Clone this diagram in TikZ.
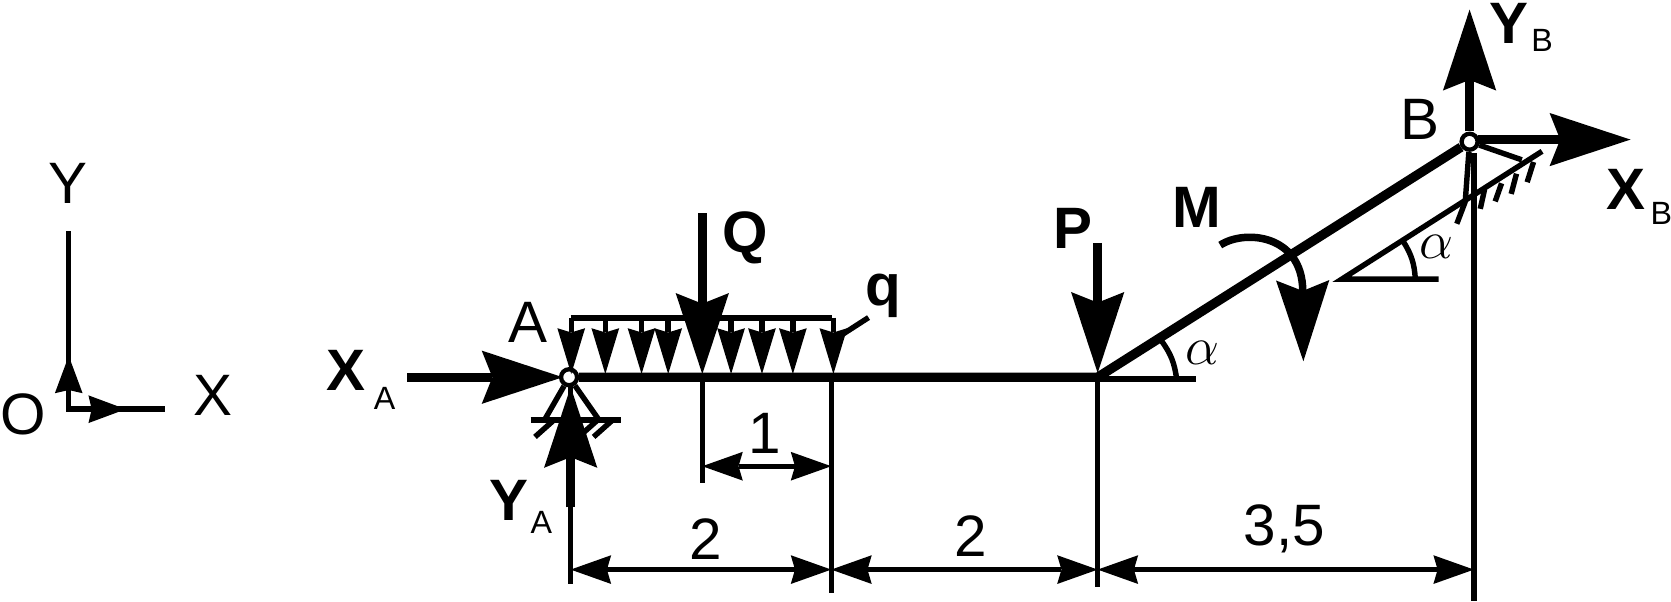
\documentclass[tikz,border=0pt]{standalone}
\usepackage{fontspec}
\setmainfont{Liberation Sans}
\usetikzlibrary{arrows.meta}
\begin{document}
\begin{tikzpicture}
    \tikzset{lab/.style={font=\fontsize{15.6}{18}\selectfont, inner sep=0pt}}
    \tikzset{boldlab/.style={font=\fontsize{15.6}{18}\selectfont\bfseries, inner sep=0pt}}
    \tikzset{sublab/.style={font=\fontsize{8.6}{10}\selectfont, inner sep=0pt}}
    \tikzset{thinline/.style={line width=1.45pt}}
    \tikzset{beam/.style={line width=2.5pt}}
    \tikzset{force/.style={line width=2.5pt, -{Stealth[length=7.6mm, width=5mm, inset=1mm, line width=0pt]}}}
    \tikzset{moment/.style={line width=2pt, -{Stealth[length=7.6mm, width=5mm, inset=1mm, line width=0pt]}}}
    \tikzset{loadarrow/.style={thinline, -{Stealth[length=4.3mm, width=2.6mm, inset=0.4mm, line width=0pt]}}}
    \tikzset{axisarrow/.style={thinline, -{Stealth[length=3.5mm, width=2.6mm, inset=0.3mm, line width=0pt]}}}
    \tikzset{dim/.style={thinline, {Stealth[length=3.8mm, width=2.7mm, inset=0.4mm, line width=0pt]}-{Stealth[length=3.8mm, width=2.7mm, inset=0.4mm, line width=0pt]}}}
    \tikzset{pin/.style={circle, draw, fill=white, line width=1.15pt, minimum size=1.5mm, inner sep=0pt}}
    \useasboundingbox (0,0) rectangle (15.68,5.64);

    % axes
    \coordinate (Oxy) at (0.645,1.80);
    \coordinate (Ytop) at (0.645,3.47);
    \coordinate (Xend) at (1.55,1.80);
    \coordinate (Ytip) at (0.645,2.30);
    \coordinate (Xtip) at (1.18,1.80);
    \draw[thinline] (Ytop) -- (Oxy) -- (Xend);
    \draw[axisarrow] (Oxy) -- (Ytip);
    \draw[axisarrow] (Oxy) -- (Xtip);
    \node[lab] (Ylab) at (0.64,3.92) {Y};
    \node[lab] (Olab) at (0.22,1.75) {O};
    \node[lab] (Xlab) at (2.00,1.93) {X};

    % beam
    \node[pin] (A) at (5.34,2.10) {};
    \node[pin] (B) at (13.79,4.31) {};
    \coordinate (Knee) at (10.30,2.10);
    \draw[beam] (A) -- (Knee) -- (B);

    % dimension lines
    \coordinate (Ab) at (5.355,2.02);
    \coordinate (Ae) at (5.355,0.16);
    \coordinate (Qb) at (6.59,2.10);
    \coordinate (Qe) at (6.59,1.11);
    \coordinate (Rb) at (7.80,2.10);
    \coordinate (Re) at (7.80,0.08);
    \coordinate (Kb) at (10.30,2.10);
    \coordinate (Ke) at (10.30,0.13);
    \coordinate (Bb) at (13.83,4.20);
    \coordinate (Be) at (13.83,0.00);
    \foreach \i/\j in {Ab/Ae,Qb/Qe,Rb/Re,Kb/Ke,Bb/Be}{
        \draw[thinline] (\i) -- (\j);
    }
    \coordinate (DimA) at (5.355,0.295);
    \coordinate (DimR) at (7.80,0.295);
    \coordinate (DimK) at (10.30,0.295);
    \coordinate (DimB) at (13.83,0.295);
    \coordinate (DimQ) at (6.59,1.265);
    \coordinate (DimS) at (7.80,1.265);
    \foreach \i/\j in {DimA/DimR,DimR/DimK,DimK/DimB,DimQ/DimS}{
        \draw[dim] (\i) -- (\j);
    }
    \node[lab] (OneLab) at (7.18,1.57) {1};
    \node[lab] (TwoLabA) at (6.62,0.58) {2};
    \node[lab] (TwoLabB) at (9.11,0.61) {2};
    \node[lab] (LenLab) at (12.05,0.68) {3,5};

    % support at A
    \coordinate (LegL) at (5.11,1.70);
    \coordinate (LegR) at (5.62,1.70);
    \coordinate (GroundL) at (4.98,1.70);
    \coordinate (GroundR) at (5.83,1.70);
    \draw[thinline] (LegL) -- (A) -- (LegR);
    \draw[thinline] (GroundL) -- (GroundR);
    \foreach \i/\x in {a/5.02,b/5.25,c/5.43,d/5.57}{
        \coordinate (H\i) at (\x,1.54);
        \coordinate (G\i) at ([xshift=1.8mm]\x,1.70);
        \draw[thinline] (H\i) -- (G\i);
    }

    % distributed load
    \coordinate (LoadL) at (5.355,2.66);
    \coordinate (LoadR) at (7.81,2.66);
    \draw[line width=1.6pt] (LoadL) -- (LoadR);
    \foreach \i/\x in {a/5.36,b/5.68,c/6.02,d/6.27,e/6.86,f/7.15,g/7.44,h/7.82}{
        \coordinate (Lt\i) at (\x,2.66);
        \coordinate (Lb\i) at (\x,2.13);
        \draw[loadarrow] (Lt\i) -- (Lb\i);
    }
    \coordinate (LeadA) at (7.84,2.46);
    \coordinate (LeadB) at (8.15,2.66);
    \draw[thinline] (LeadA) -- (LeadB);
    \node[boldlab] (qlab) at (8.29,2.86) {q};

    % forces
    \coordinate (Qs) at (6.59,3.64);
    \coordinate (Qt) at (6.59,2.13);
    \draw[force] (Qs) -- (Qt);
    \node[boldlab] (Qlab) at (6.99,3.41) {Q};
    \coordinate (XAs) at (3.82,2.10);
    \coordinate (XAt) at (5.28,2.10);
    \draw[force] (XAs) -- (XAt);
    \node[boldlab] (XAlab) at (3.25,2.16) {X};
    \node[sublab] (XAsub) at (3.61,1.90) {A};
    \coordinate (YAs) at (5.355,0.88);
    \coordinate (YAt) at (5.355,2.01);
    \draw[force] (YAs) -- (YAt);
    \node[boldlab] (YAlab) at (4.78,0.94) {Y};
    \node[sublab] (YAsub) at (5.08,0.74) {A};
    \node[lab] (Alab) at (4.95,2.61) {A};
    \coordinate (Ps) at (10.30,3.36);
    \coordinate (Pt) at (10.30,2.14);
    \draw[force] (Ps) -- (Pt);
    \node[boldlab] (Plab) at (10.07,3.50) {P};
    \coordinate (Ms) at (11.45,3.34);
    \coordinate (Mt) at (12.23,2.25);
    \draw[moment] (Ms) .. controls (11.68,3.49) and (12.22,3.44) .. (Mt);
    \node[boldlab] (Mlab) at (11.23,3.69) {M};

    % angle at the knee
    \coordinate (KneeS) at (10.30,2.085);
    \coordinate (KneeEnd) at (11.22,2.085);
    \draw[thinline] (KneeS) -- (KneeEnd);
    \coordinate (ArcA) at (11.04,2.09);
    \coordinate (ArcB) at (10.90,2.44);
    \draw[thinline] (ArcA) to[bend right=14] (ArcB);
    \node[lab] (alphaA) at (11.28,2.33) {$\alpha$};

    % support at B
    \coordinate (SlopeS) at (12.59,3.02);
    \coordinate (SlopeE) at (14.47,4.22);
    \coordinate (SlopeH) at (13.50,3.02);
    \draw[thinline] (SlopeH) -- (SlopeS) -- (SlopeE);
    \coordinate (ArcC) at (13.28,3.03);
    \coordinate (ArcD) at (13.17,3.37);
    \draw[thinline] (ArcC) to[bend right=14] (ArcD);
    \node[lab] (alphaB) at (13.48,3.32) {$\alpha$};
    \coordinate (LegC) at (13.75,3.76);
    \coordinate (LegD) at (14.28,4.14);
    \draw[thinline] (B) -- (LegC);
    \draw[thinline] (B) -- (LegD);
    \foreach \i/\ax/\ay/\bx/\by in {a/13.75/3.75/13.67/3.54,b/13.93/3.86/13.89/3.68,c/14.09/3.92/14.03/3.75,d/14.23/4.01/14.18/3.82,e/14.39/4.12/14.33/3.93}{
        \coordinate (Ha\i) at (\ax,\ay);
        \coordinate (Hb\i) at (\bx,\by);
        \draw[thinline] (Ha\i) -- (Hb\i);
    }

    % reactions at B
    \coordinate (YBs) at (13.79,4.41);
    \coordinate (YBt) at (13.79,5.55);
    \draw[force] (YBs) -- (YBt);
    \node[boldlab] (YBlab) at (14.16,5.42) {Y};
    \node[sublab] (YBsub) at (14.47,5.26) {B};
    \coordinate (XBs) at (13.87,4.33);
    \coordinate (XBt) at (15.30,4.33);
    \draw[force] (XBs) -- (XBt);
    \node[boldlab] (XBlab) at (15.26,3.86) {X};
    \node[sublab] (XBsub) at (15.59,3.64) {B};
    \node[lab] (Blab) at (13.32,4.52) {B};
\end{tikzpicture}
\end{document}
